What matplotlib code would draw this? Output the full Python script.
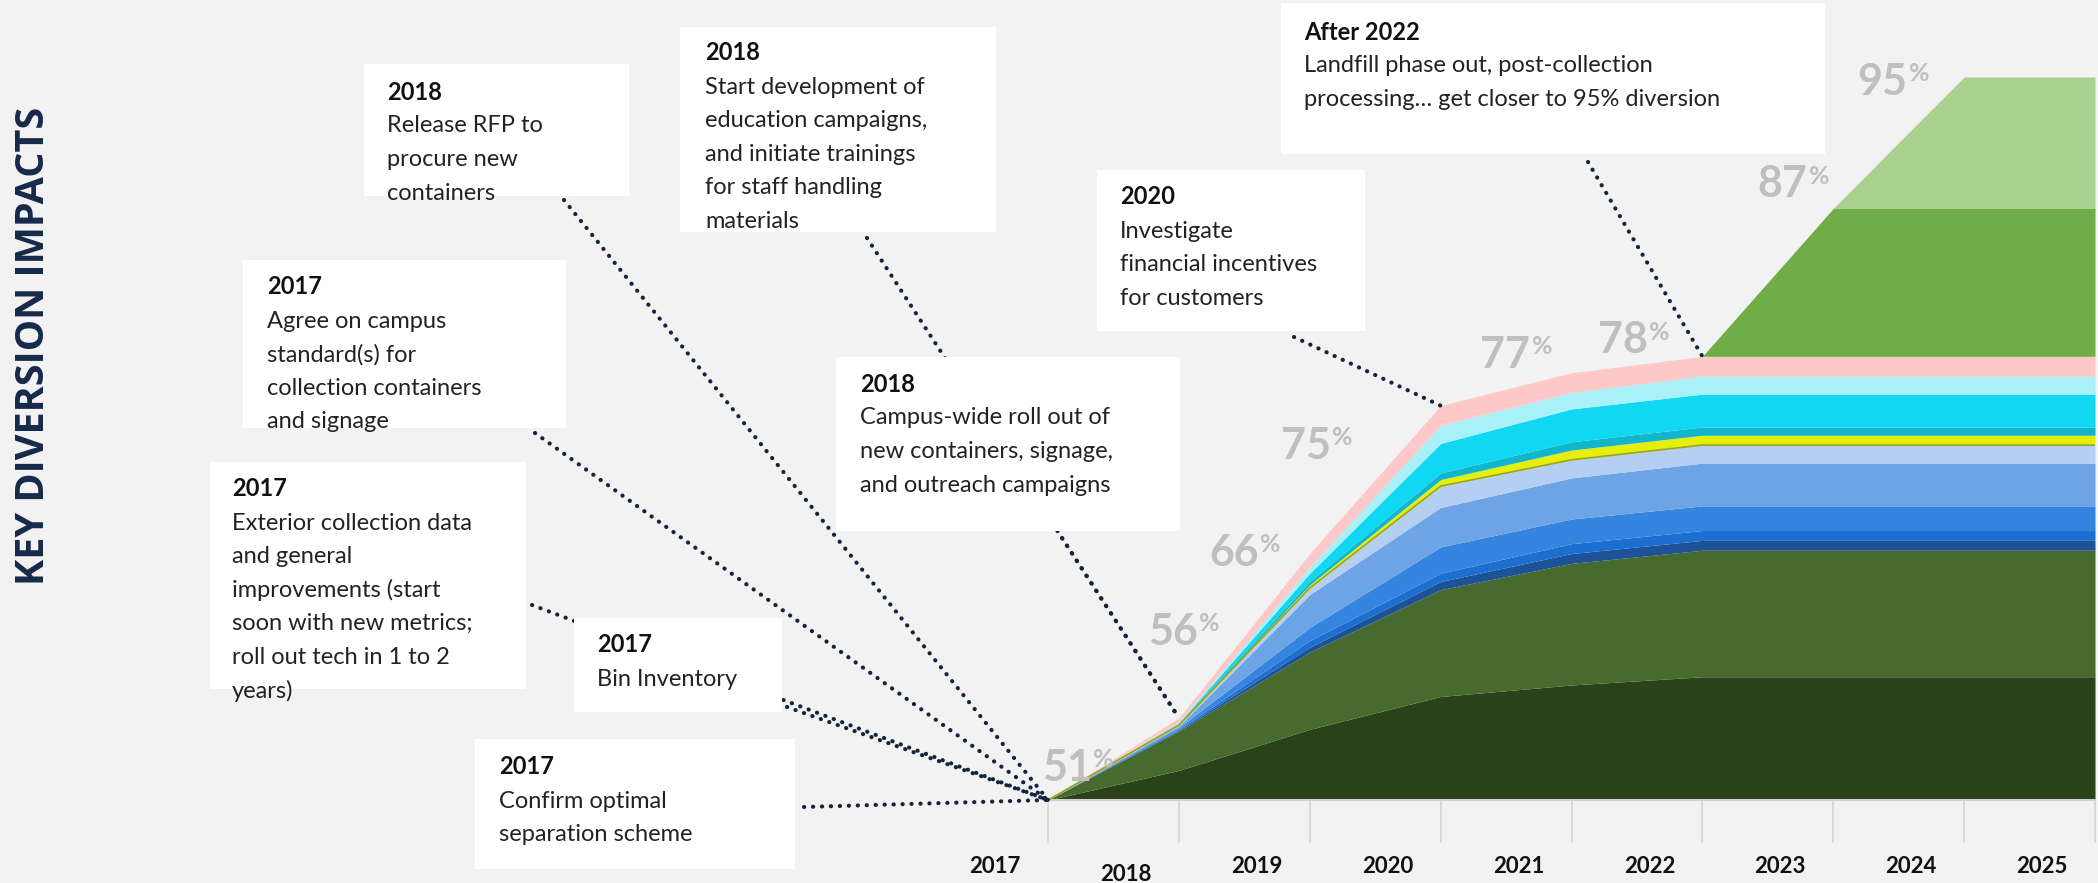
import numpy as np
import matplotlib.pyplot as plt
from matplotlib.patches import Rectangle, ConnectionPatch
from matplotlib.transforms import ScaledTranslation

# Years on the x axis
years = np.arange(2017, 2026)

# Total diversion rate reached each year (%)
diversion = [51, 56, 66, 75, 77, 78, 87, 95, 95]
labelled_years = [2017, 2018, 2019, 2020, 2021, 2022, 2023, 2024]
base_rate = 51

# Percentage points added by each initiative, stacked from the bottom
band1 = [0, 1.8, 4.3, 6.3, 7.0, 7.5, 7.5, 7.5, 7.5]
band2 = [0, 2.4, 4.7, 6.5, 7.4, 7.7, 7.7, 7.7, 7.7]
band3 = [0, 0.05, 0.3, 0.5, 0.6, 0.6, 0.6, 0.6, 0.6]
band4 = [0, 0.05, 0.4, 0.5, 0.6, 0.6, 0.6, 0.6, 0.6]
band5 = [0, 0.1, 0.8, 1.6, 1.5, 1.5, 1.5, 1.5, 1.5]
band6 = [0, 0.1, 2.0, 2.4, 2.5, 2.6, 2.6, 2.6, 2.6]
band7 = [0, 0.05, 0.4, 1.3, 1.1, 1.1, 1.1, 1.1, 1.1]
band8 = [0, 0.05, 0.2, 0.4, 0.6, 0.6, 0.6, 0.6, 0.6]
band9 = [0, 0.05, 0.2, 0.4, 0.5, 0.5, 0.5, 0.5, 0.5]
band10 = [0, 0.05, 0.5, 1.8, 2.0, 2.0, 2.0, 2.0, 2.0]
band11 = [0, 0.05, 0.4, 1.1, 1.0, 1.1, 1.1, 1.1, 1.1]
band12 = [0, 0.25, 0.8, 1.2, 1.2, 1.2, 1.2, 1.2, 1.2]
band13 = [0, 0, 0, 0, 0, 0, 9, 9, 9]
band14 = [0, 0, 0, 0, 0, 0, 0, 8, 8]

bands = [band1, band2, band3, band4, band5, band6, band7,
         band8, band9, band10, band11, band12, band13, band14]
band_colors = ['#2A411A', '#476A2E', '#1D5297', '#1C6FD0', '#3584E0',
               '#6CA4E6', '#B4CFF2', '#E4EF0E', '#13B5CC', '#10D8F2',
               '#A9F0F9', '#FFC8C8', '#70AD47', '#A9D18E']

# Milestone call-outs: header, body lines, target point
notes = [
    ('2018', ['Release RFP to', 'procure new', 'containers'], (2017, 51)),
    ('2018', ['Start development of', 'education campaigns,',
              'and initiate trainings', 'for staff handling', 'materials'], (2018, 56)),
    ('After 2022', ['Landfill phase out, post-collection',
                    'processing… get closer to 95% diversion'], (2022, 78)),
    ('2020', ['Investigate', 'financial incentives', 'for customers'], (2020, 75)),
    ('2017', ['Agree on campus', 'standard(s) for',
              'collection containers', 'and signage'], (2017, 51)),
    ('2018', ['Campus-wide roll out of', 'new containers, signage,',
              'and outreach campaigns'], (2018, 56)),
    ('2017', ['Exterior collection data', 'and general',
              'improvements (start', 'soon with new metrics;',
              'roll out tech in 1 to 2', 'years)'], (2017, 51)),
    ('2017', ['Bin Inventory'], (2017, 51)),
    ('2017', ['Confirm optimal', 'separation scheme'], (2017, 51)),
]

# box (left, top, right, bottom), text left, header centre, connector start -- in pixels
note_layout = [
    ((364, 64, 629, 196), 387, 92, (564, 200)),
    ((680, 27, 996, 232), 705, 53, (867, 238)),
    ((1281, 3, 1825, 154), 1304, 32, (1588, 162)),
    ((1097, 170, 1365, 331), 1120, 197, (1294, 337)),
    ((243, 260, 566, 428), 267, 287, (535, 433)),
    ((836, 357, 1180, 531), 860, 384, (1062, 538)),
    ((210, 462, 526, 689), 232, 489, (532, 605)),
    ((574, 618, 782, 712), 597, 645, (787, 707)),
    ((475, 739, 795, 869), 499, 767, (804, 807)),
]

# offsets (px) of the percentage labels from their points
pct_offsets = [(44, -32), (19, -86), (-51, -1), (-110, 40),
               (-41, -18), (-55, -16), (-26, -24), (-57, 5)]

W, H = 2098, 883
BG = '#F2F2F2'
NAVY = '#17294A'


def fx(x):
    return x / W


def fy(y):
    return 1 - y / H


fig = plt.figure(figsize=(W / 100, H / 100), dpi=100, facecolor=BG)
ax = fig.add_axes([fx(1048), fy(800), fx(2095) - fx(1048), fy(77) - fy(800)])
ax.set_facecolor('none')

# stacked areas
lower = np.full(len(years), float(base_rate))
for vals, col in zip(bands, band_colors):
    upper = lower + np.array(vals)
    ax.fill_between(years, lower, upper, color=col, lw=0, zorder=2)
    if col == '#E4EF0E':
        ax.plot(years, lower, color='#9AA51A', lw=1.2, zorder=3)
    lower = upper

# percentage labels
for yr, off in zip(labelled_years, pct_offsets):
    v = diversion[list(years).index(yr)]
    ax.annotate(str(v), (yr, v), xytext=(off[0] * 0.72, -off[1] * 0.72),
                textcoords='offset points', ha='right', va='center',
                fontsize=31, fontweight='bold', color='#BFBFBF',
                family='Lato', zorder=5, annotation_clip=False)
    ax.annotate('%', (yr, v), xytext=(off[0] * 0.72 + 1, -off[1] * 0.72 + 6),
                textcoords='offset points', ha='left', va='center',
                fontsize=18, fontweight='bold', color='#BFBFBF',
                family='Lato', zorder=5, annotation_clip=False)

# axis: year gridlines below the baseline, labels shifted left of them
for s in ['top', 'right', 'left']:
    ax.spines[s].set_visible(False)
ax.spines['bottom'].set_color('#D0D0D0')
ax.spines['bottom'].set_linewidth(1.5)
ax.set_yticks([])
ax.set_xticks(years)
ax.set_xticklabels([str(y) for y in years], fontsize=16,
                   fontweight='bold', family='Lato', color='#111111')
ax.tick_params(axis='x', length=31, width=1.2, color='#D6D6D6',
               direction='out', pad=9)
for i, lbl in enumerate(ax.get_xticklabels()):
    dy = -0.08 if i == 1 else 0
    lbl.set_transform(lbl.get_transform() + ScaledTranslation(-0.53, dy, fig.dpi_scale_trans))
ax.set_xlim(2017, 2025)
ax.set_ylim(51, 95)

# call-out boxes and dotted leaders
for (head, lines, target), (box, tx, hy, start) in zip(notes, note_layout):
    l, t, r, b = box
    fig.add_artist(Rectangle((fx(l), fy(b)), fx(r) - fx(l), fy(t) - fy(b),
                             transform=fig.transFigure, facecolor='white',
                             edgecolor='none', zorder=3))
    con = ConnectionPatch(xyA=(fx(start[0]), fy(start[1])), coordsA='figure fraction',
                          xyB=target, coordsB=ax.transData,
                          color='#14243F', lw=3.0, linestyle=(0, (0.05, 2.1)),
                          capstyle='round', shrinkA=0, shrinkB=0, zorder=2)
    fig.add_artist(con)
    fig.text(fx(tx), fy(hy), head, fontsize=17, fontweight='bold',
             family='Lato', color='#111111', va='center', ha='left', zorder=4)
    for i, line in enumerate(lines):
        fig.text(fx(tx), fy(hy + 34 + i * 33.6), line, fontsize=17,
                 family='Lato', color='#222222', va='center', ha='left', zorder=4)

# side title
fig.text(fx(34), fy(346), 'KEY DIVERSION IMPACTS', rotation=90,
         fontsize=28.5, fontweight='bold', family='Open Sans', color=NAVY,
         ha='center', va='center')

fig.savefig('out.png', dpi=100, facecolor=BG)
